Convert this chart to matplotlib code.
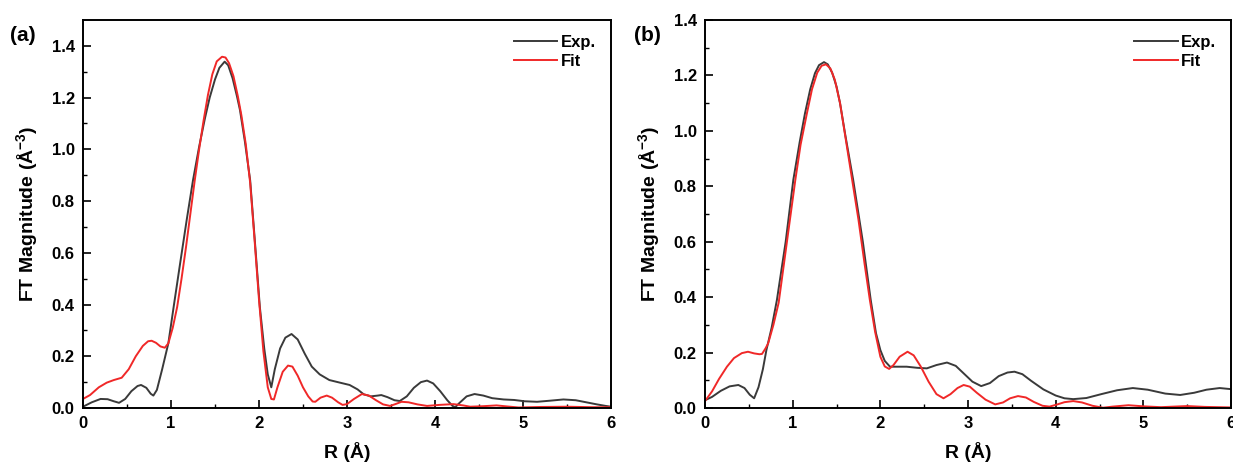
import matplotlib
matplotlib.use('Agg')
import matplotlib.pyplot as plt

plt.rcParams['font.family'] = ['Arial', 'Liberation Sans', 'DejaVu Sans']
plt.rcParams['font.weight'] = 'bold'
plt.rcParams['mathtext.fontset'] = 'custom'
plt.rcParams['mathtext.rm'] = 'Liberation Sans:bold'
plt.rcParams['mathtext.it'] = 'Liberation Sans:bold'
plt.rcParams['mathtext.bf'] = 'Liberation Sans:bold'

# (a) experimental
r_exp_a = [0.00, 0.10, 0.20, 0.28, 0.35, 0.41, 0.48, 0.55, 0.62, 0.66, 0.72, 0.77, 0.80, 0.84,
           0.90, 0.97, 1.03, 1.10, 1.18, 1.25, 1.32, 1.386, 1.44, 1.50, 1.55, 1.61, 1.65,
           1.70, 1.75, 1.784, 1.84, 1.90, 1.95, 2.01, 2.06, 2.10, 2.14, 2.18, 2.24, 2.30, 2.37,
           2.44, 2.52, 2.60, 2.69, 2.80, 2.92, 3.03, 3.12, 3.19, 3.27, 3.35, 3.39, 3.46, 3.54,
           3.60, 3.68, 3.76, 3.84, 3.91, 3.98, 4.06, 4.14, 4.20, 4.23, 4.28, 4.36, 4.45, 4.55,
           4.65, 4.78, 4.90, 5.02, 5.16, 5.30, 5.46, 5.60, 5.72, 5.84, 5.94, 6.00]
ft_exp_a = [0.005, 0.022, 0.035, 0.034, 0.026, 0.020, 0.035, 0.065, 0.085, 0.089, 0.078, 0.055, 0.048, 0.070,
            0.150, 0.250, 0.390, 0.550, 0.730, 0.880, 1.010, 1.120, 1.200, 1.270, 1.315, 1.339, 1.325,
            1.275, 1.205, 1.152, 1.030, 0.880, 0.660, 0.390, 0.230, 0.130, 0.080, 0.150, 0.230, 0.272, 0.286,
            0.265, 0.210, 0.160, 0.130, 0.108, 0.098, 0.089, 0.072, 0.053, 0.045, 0.048, 0.050, 0.042, 0.030,
            0.027, 0.045, 0.078, 0.100, 0.106, 0.095, 0.065, 0.030, 0.008, 0.003, 0.020, 0.045, 0.054, 0.048,
            0.038, 0.033, 0.031, 0.026, 0.024, 0.028, 0.033, 0.030, 0.022, 0.014, 0.008, 0.005]

# (a) fit
r_fit_a = [0.00, 0.08, 0.18, 0.27, 0.35, 0.44, 0.52, 0.60, 0.68, 0.74, 0.78, 0.83, 0.88, 0.93,
           0.97, 1.02, 1.07, 1.12, 1.17, 1.22, 1.27, 1.32, 1.37, 1.42, 1.47, 1.52, 1.58, 1.62,
           1.66, 1.71, 1.76, 1.80, 1.85, 1.90, 1.95, 2.00, 2.05, 2.10, 2.14, 2.17, 2.21, 2.27,
           2.33, 2.38, 2.44, 2.50, 2.56, 2.61, 2.64, 2.70, 2.77, 2.83, 2.90, 2.95, 3.00, 3.08,
           3.17, 3.25, 3.33, 3.41, 3.49, 3.55, 3.62, 3.70, 3.80, 3.91, 4.05, 4.21, 4.32, 4.40,
           4.55, 4.70, 4.82, 4.95, 5.20, 5.50, 5.80, 6.00]
ft_fit_a = [0.035, 0.050, 0.080, 0.098, 0.108, 0.117, 0.150, 0.200, 0.240, 0.258, 0.260, 0.252, 0.238, 0.233,
            0.250, 0.310, 0.390, 0.500, 0.620, 0.750, 0.880, 1.000, 1.110, 1.210, 1.290, 1.340, 1.358, 1.355,
            1.333, 1.283, 1.205, 1.132, 1.020, 0.870, 0.650, 0.420, 0.220, 0.080, 0.035, 0.033, 0.080, 0.140,
            0.164, 0.160, 0.125, 0.080, 0.045, 0.025, 0.024, 0.040, 0.048, 0.040, 0.022, 0.012, 0.015, 0.035,
            0.054, 0.048, 0.030, 0.014, 0.008, 0.015, 0.024, 0.022, 0.014, 0.008, 0.012, 0.015, 0.010, 0.005,
            0.007, 0.010, 0.006, 0.002, 0.004, 0.005, 0.003, 0.003]

# (b) experimental
r_exp_b = [0.00, 0.08, 0.18, 0.28, 0.38, 0.45, 0.51, 0.56, 0.61, 0.66, 0.70, 0.76, 0.82, 0.92,
           1.007, 1.08, 1.14, 1.20, 1.254, 1.30, 1.357, 1.40, 1.45, 1.50, 1.54, 1.60, 1.69, 1.80,
           1.89, 1.95, 2.00, 2.05, 2.11, 2.20, 2.30, 2.42, 2.53, 2.64, 2.76, 2.86, 2.95, 3.05,
           3.15, 3.25, 3.35, 3.45, 3.53, 3.62, 3.72, 3.86, 4.00, 4.10, 4.20, 4.35, 4.52, 4.70,
           4.88, 5.05, 5.25, 5.42, 5.58, 5.72, 5.87, 6.00]
ft_exp_b = [0.028, 0.040, 0.062, 0.078, 0.083, 0.072, 0.048, 0.035, 0.075, 0.140, 0.209, 0.290, 0.390, 0.600,
            0.823, 0.960, 1.063, 1.150, 1.208, 1.237, 1.248, 1.240, 1.210, 1.160, 1.100, 0.985, 0.823, 0.600,
            0.390, 0.270, 0.209, 0.170, 0.149, 0.149, 0.149, 0.145, 0.143, 0.155, 0.164, 0.152, 0.125, 0.095,
            0.079, 0.090, 0.115, 0.128, 0.131, 0.122, 0.098, 0.067, 0.045, 0.035, 0.032, 0.036, 0.050, 0.064,
            0.072, 0.066, 0.052, 0.047, 0.055, 0.066, 0.072, 0.068]

# (b) fit
r_fit_b = [0.00, 0.08, 0.16, 0.25, 0.33, 0.42, 0.49, 0.56, 0.62, 0.65, 0.69, 0.72, 0.78, 0.84,
           0.93, 1.03, 1.09, 1.16, 1.22, 1.28, 1.33, 1.38, 1.43, 1.48, 1.54, 1.60, 1.66, 1.75,
           1.82, 1.88, 1.94, 2.00, 2.05, 2.10, 2.15, 2.22, 2.31, 2.38, 2.46, 2.55, 2.64, 2.72,
           2.80, 2.88, 2.95, 3.02, 3.10, 3.20, 3.31, 3.40, 3.48, 3.57, 3.66, 3.75, 3.85, 3.93,
           4.02, 4.10, 4.20, 4.30, 4.42, 4.54, 4.65, 4.83, 5.00, 5.20, 5.35, 5.50, 5.70, 6.00]
ft_fit_b = [0.025, 0.060, 0.105, 0.149, 0.180, 0.198, 0.203, 0.197, 0.194, 0.195, 0.215, 0.233, 0.300, 0.380,
            0.590, 0.823, 0.950, 1.060, 1.150, 1.210, 1.235, 1.240, 1.225, 1.185, 1.100, 0.980, 0.860, 0.680,
            0.520, 0.390, 0.275, 0.185, 0.150, 0.141, 0.155, 0.185, 0.203, 0.190, 0.150, 0.095, 0.050, 0.035,
            0.050, 0.072, 0.083, 0.077, 0.055, 0.030, 0.013, 0.020, 0.035, 0.043, 0.038, 0.022, 0.008, 0.005,
            0.013, 0.021, 0.025, 0.020, 0.008, 0.001, 0.005, 0.010, 0.006, 0.003, 0.005, 0.007, 0.004, 0.002]

exp_color = '#3a3a3a'
fit_color = '#f02828'

fig = plt.figure(figsize=(12.33, 4.63), dpi=100)
ax_a = fig.add_axes([0.0673, 0.1188, 0.4282, 0.838])
ax_b = fig.add_axes([0.5718, 0.1188, 0.4266, 0.838])

panels = [
    (ax_a, r_exp_a, ft_exp_a, r_fit_a, ft_fit_a, 1.5, '(a)', 0.008),
    (ax_b, r_exp_b, ft_exp_b, r_fit_b, ft_fit_b, 1.4, '(b)', 0.514),
]

for ax, rx, fx, rf, ff, ytop, tag, tagx in panels:
    ax.plot(rx, fx, color=exp_color, lw=1.4, label='Exp.')
    ax.plot(rf, ff, color=fit_color, lw=1.4, label='Fit')
    ax.set_xlim(0, 6)
    ax.set_ylim(0, ytop)
    ax.set_xticks([0, 1, 2, 3, 4, 5, 6])
    ax.set_xticks([0.5, 1.5, 2.5, 3.5, 4.5, 5.5], minor=True)
    ax.set_yticks([0.0, 0.2, 0.4, 0.6, 0.8, 1.0, 1.2, 1.4])
    ax.set_yticks([0.1, 0.3, 0.5, 0.7, 0.9, 1.1, 1.3], minor=True)
    ax.yaxis.set_major_formatter(plt.FormatStrFormatter('%.1f'))
    ax.tick_params(which='major', direction='in', length=6, width=1.2, labelsize=12, pad=6)
    ax.tick_params(which='minor', direction='in', length=3, width=1.0)
    for lab in ax.get_xticklabels() + ax.get_yticklabels():
        lab.set_fontweight('bold')
    for sp in ax.spines.values():
        sp.set_linewidth(1.4)
    ax.set_xlabel('R (Å)', fontsize=14, fontweight='bold', labelpad=8)
    ax.set_ylabel('FT Magnitude (Å$^{-3}$)', fontsize=14, fontweight='bold', labelpad=8)
    ax.legend(loc='upper right', frameon=False, handlelength=2.6,
              handletextpad=0.2, labelspacing=0.25, borderaxespad=0.5,
              prop={'weight': 'bold', 'size': 12})
    fig.text(tagx, 0.924, tag, fontsize=15, fontweight='bold', va='center', ha='left')

fig.savefig('out.png', dpi=100)
